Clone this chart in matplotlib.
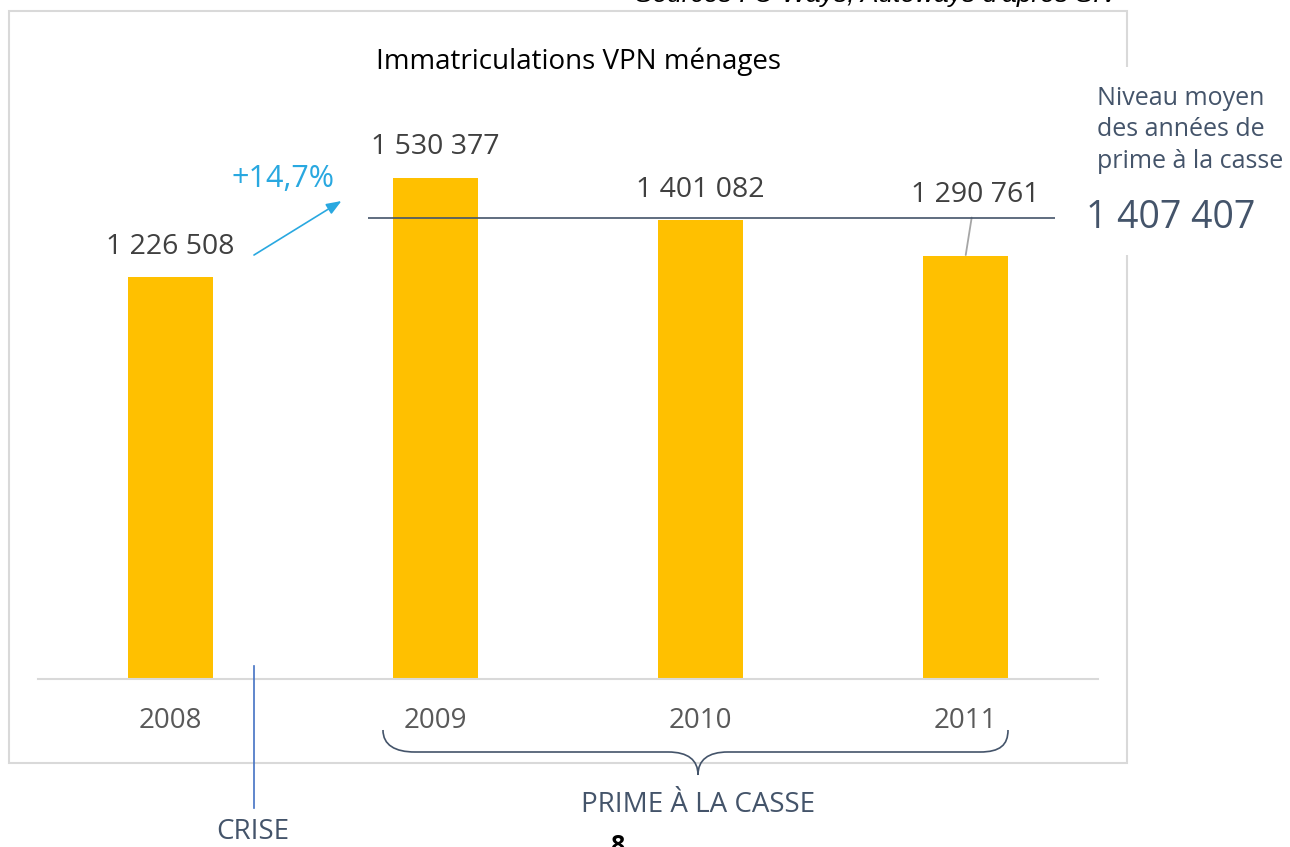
import matplotlib.pyplot as plt
from matplotlib.patches import Rectangle, PathPatch
from matplotlib.path import Path
from matplotlib.lines import Line2D

# -- data

years = ["2008", "2009", "2010", "2011"]
values = [1226508, 1530377, 1401082, 1290761]
prime_years = values[1:]
growth_label = "+14,7%"
title = "Immatriculations VPN ménages"
source = "Sources : C-Ways, Autoways d'après SIV"

W, H = 1290, 847

def fx(x):
    return x / W

def fy(y):
    return 1 - y / H

def fmt(v):
    return f"{v:,}".replace(",", " ")

plt.rcParams['font.family'] = ['Open Sans', 'DejaVu Sans']

fig = plt.figure(figsize=(W / 100, H / 100), dpi=100)
fig.patch.set_facecolor('white')

# -- chart frame

frame = Rectangle((fx(9), fy(763)), fx(1127) - fx(9), fy(11) - fy(763),
                  transform=fig.transFigure, fill=False, ec='#D9D9D9', lw=1.5)
fig.patches.append(frame)

# -- axes

ax = fig.add_axes([fx(38), fy(679), fx(1098) - fx(38), fy(89.7) - fy(679)])
ax.set_xlim(-0.5, 3.5)
ax.set_ylim(0, 1.8e6)
ax.patch.set_visible(False)
for s in ['top', 'right', 'left']:
    ax.spines[s].set_visible(False)
ax.spines['bottom'].set_color('#D9D9D9')
ax.spines['bottom'].set_linewidth(1.5)
ax.set_yticks([])

x = range(len(years))
ax.bar(x, values, width=0.32, color='#FFC000', zorder=2)
ax.set_xticks(list(x))
ax.set_xticklabels(years, fontsize=20, color='#595959')
ax.tick_params(axis='x', length=0, pad=20)

# value labels
for i, v in enumerate(values):
    if i == 3:
        ax.annotate(fmt(v), xy=(i, v), xytext=(7, 44), textcoords='offset points',
                    ha='center', va='center', fontsize=20.5, color='#404040',
                    arrowprops=dict(arrowstyle='-', color='#A6A6A6', lw=1.3,
                                    shrinkA=4, shrinkB=1))
    else:
        ax.annotate(fmt(v), xy=(i, v), xytext=(0, 22), textcoords='offset points',
                    ha='center', va='center', fontsize=20.5, color='#404040')

# average line over prime years
avg = sum(prime_years) / len(prime_years)
ax.hlines(avg, 0.745, 3.338, color='#44546A', lw=1.2, zorder=3)

# growth arrow
ax.annotate('', xy=(0.645, 1.46e6), xytext=(0.315, 1.295e6),
            arrowprops=dict(arrowstyle='-|>,head_length=0.9,head_width=0.35',
                            color='#29A8E0', lw=1.2, shrinkA=0, shrinkB=0))
ax.text(0.425, 1.527e6, growth_label, ha='center', va='center',
        fontsize=22, color='#29A8E0')

# -- title and source

fig.text(fx(578), fy(62), title, ha='center', va='center', fontsize=20, color='black')
fig.text(fx(1118), fy(-5), source, ha='right', va='center', fontsize=19,
         style='italic', family='Liberation Sans', color='black')

# -- right annotation (breaks the frame)

fig.patches.append(Rectangle((fx(1120), fy(255)), fx(170), fy(67) - fy(255),
                             transform=fig.transFigure, fc='white', ec='none'))
fig.text(fx(1097), fy(130), "Niveau moyen\ndes années de\nprime à la casse",
         ha='left', va='center', fontsize=18, color='#44546A', linespacing=1.33)
fig.text(fx(1171), fy(218), fmt(round(avg)), ha='center', va='center',
         fontsize=27, color='#44546A')

# -- crise marker

fig.lines.append(Line2D([fx(254), fx(254)], [fy(666), fy(808)],
                        transform=fig.transFigure, color='#4472C4', lw=1.2))
fig.text(fx(253), fy(832), "CRISE", ha='center', va='center', fontsize=20, color='#44546A')

# -- brace for prime a la casse

verts = [
    (383, 730), (383, 745), (395, 752), (415, 752),
    (668, 752),
    (688, 752), (698, 760), (698, 775),
    (698, 760), (708, 752), (728, 752),
    (980, 752),
    (1000, 752), (1008, 745), (1008, 730),
]
codes = [Path.MOVETO, Path.CURVE4, Path.CURVE4, Path.CURVE4,
         Path.LINETO,
         Path.CURVE4, Path.CURVE4, Path.CURVE4,
         Path.CURVE4, Path.CURVE4, Path.CURVE4,
         Path.LINETO,
         Path.CURVE4, Path.CURVE4, Path.CURVE4]
brace = Path([(fx(a), fy(b)) for a, b in verts], codes)
fig.patches.append(PathPatch(brace, transform=fig.transFigure, fill=False,
                             ec='#44546A', lw=1.2))
fig.text(fx(698), fy(805), "PRIME À LA CASSE", ha='center', va='center',
         fontsize=20, color='#44546A')

# page number, cut at the bottom
fig.text(fx(617), fy(846), "8", ha='center', va='center', fontsize=18,
         fontweight='bold', color='black')

fig.savefig('out.png', dpi=100)
